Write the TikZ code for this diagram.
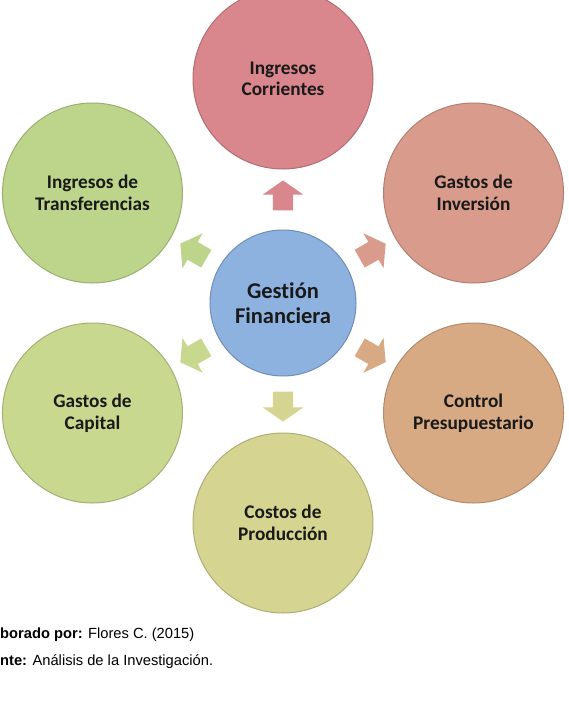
\documentclass[tikz,border=0pt]{standalone}
\usepackage{fontspec}
\setmainfont{Liberation Sans}
\newfontfamily\calib[Ligatures=NoCommon]{Carlito}
\usepackage{tikz}
\usetikzlibrary{shapes,arrows,positioning}
\definecolor{cHub}{RGB}{141,178,224}
\definecolor{cRose}{RGB}{217,134,140}
\definecolor{cSalmon}{RGB}{217,155,139}
\definecolor{cTan}{RGB}{216,170,132}
\definecolor{cOlive}{RGB}{214,212,145}
\definecolor{cLime}{RGB}{200,216,143}
\definecolor{cLeaf}{RGB}{188,213,138}
\tikzset{disk/.style = {circle, draw=#1!82!black, fill=#1, line width=1pt, minimum size=180pt, inner sep=0pt, align=center, text=black!90, font=\calib\bfseries\fontsize{19.3}{21.5}\selectfont},
         hub/.style = {circle, draw=cHub!80!black, fill=cHub, line width=1pt, minimum size=146pt, inner sep=0pt, align=center, text=black!90, font=\calib\bfseries\fontsize{22.5}{25}\selectfont},
         blockarr/.style = {single arrow, fill=#1, draw=none, minimum height=30pt, minimum width=40pt, single arrow head extend=10pt, single arrow tip angle=110, inner xsep=0pt, inner ysep=10pt},
         note/.style = {anchor=base west, inner sep=0pt, font=\fontsize{14.7}{17}\selectfont},
}

\begin{document}
\begin{tikzpicture}[x=1pt, y=1pt]
  \useasboundingbox (0,0) rectangle (569,-715);

  \node[hub] (gestion) at (283,-303) {Gesti\'on\\Financiera};

  \node[disk=cRose] (ing_corr) at ([shift={(90:224pt)}]gestion.center) {Ingresos\\Corrientes};
  \node[disk=cSalmon] (gas_inv) at ([shift={(30:220pt)}]gestion.center) {Gastos de\\Inversi\'on};
  \node[disk=cTan] (control) at ([shift={(-30:220pt)}]gestion.center) {Control\\Presupuestario};
  \node[disk=cOlive] (costos) at ([shift={(-90:220pt)}]gestion.center) {Costos de\\Producci\'on};
  \node[disk=cLime] (gas_cap) at ([shift={(210:220pt)}]gestion.center) {Gastos de\\Capital};
  \node[disk=cLeaf] (ing_trans) at ([shift={(150:220pt)}]gestion.center) {Ingresos de\\Transferencias};

  \node[blockarr=cRose, rotate=90] (to_ing_corr) at ([shift={(90:104pt)}]gestion.center) {};
  \node[blockarr=cSalmon, rotate=30] (to_gas_inv) at ([shift={(30:100pt)}]gestion.center) {};
  \node[blockarr=cTan, rotate=-30] (to_control) at ([shift={(-30:100pt)}]gestion.center) {};
  \node[blockarr=cOlive, rotate=-90] (to_costos) at ([shift={(-90:100pt)}]gestion.center) {};
  \node[blockarr=cLime, rotate=210] (to_gas_cap) at ([shift={(210:100pt)}]gestion.center) {};
  \node[blockarr=cLeaf, rotate=150] (to_ing_trans) at ([shift={(150:100pt)}]gestion.center) {};

  \node[note] (elab) at (0,-638) {\textbf{borado por:} Flores C. (2015)};
  \node[note] (fuente) at (0,-665) {\textbf{nte:} An\'alisis de la Investigaci\'on.};

\end{tikzpicture}
\end{document}
